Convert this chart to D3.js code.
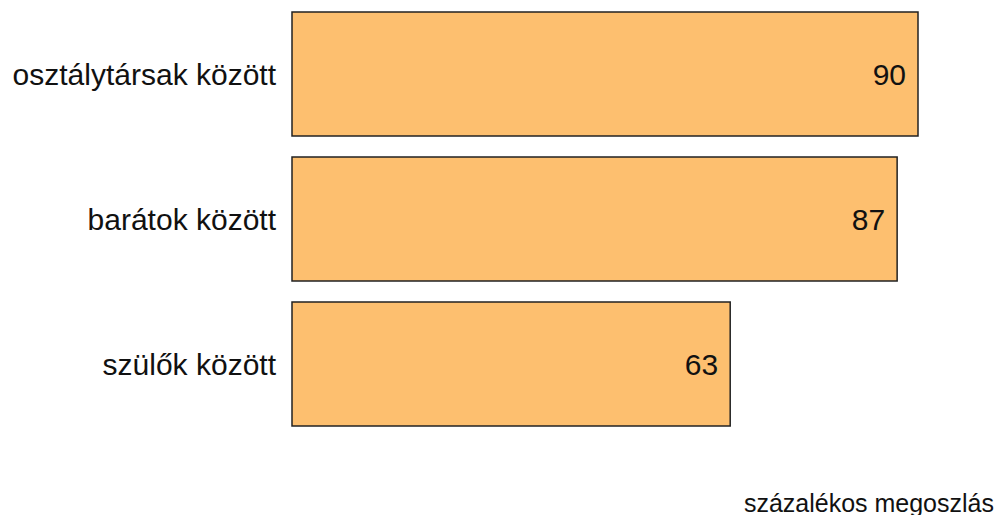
<!DOCTYPE html>
<html>
<head>
    <meta charset="utf-8" />
    <title></title>
    <style>
        body { margin: 0; background: #fff; }
        text { font-family: "Liberation Sans", Arial, sans-serif; fill: #111; }
    </style>
</head>
<body>
    <div id="chart"></div>
    <script src="https://cdn.jsdelivr.net/npm/d3@7"></script>
    <script>
        var categories = ["osztálytársak között", "barátok között", "szülők között"];
        var values = [90, 87, 63];
        var axisTitle = "százalékos megoszlás";

        var width = 997, height = 515;
        var data = categories.map((c, i) => ({ name: c, value: values[i] }));

        var svg = d3.select("#chart")
            .append("svg")
            .attr("width", width)
            .attr("height", height);

        var x = d3.scaleLinear()
            .domain([0, 90])
            .range([292, 918]);

        var y = d3.scaleBand()
            .domain(categories)
            .range([12, 426])
            .paddingInner(21 / 145)
            .paddingOuter(0);

        svg.append("g")
            .selectAll("rect")
            .data(data)
            .join("rect")
            .attr("x", x(0))
            .attr("y", d => y(d.name))
            .attr("width", d => x(d.value) - x(0))
            .attr("height", y.bandwidth())
            .attr("fill", "#fdbf6f")
            .attr("stroke", "#222")
            .attr("stroke-width", 1.5);

        svg.append("g")
            .attr("font-size", 30)
            .attr("text-anchor", "end")
            .selectAll("text")
            .data(data)
            .join("text")
            .attr("x", d => x(d.value) - 12)
            .attr("y", d => y(d.name) + y.bandwidth() / 2)
            .attr("dy", "0.36em")
            .text(d => d.value);

        svg.append("g")
            .attr("font-size", 30)
            .attr("text-anchor", "end")
            .selectAll("text")
            .data(data)
            .join("text")
            .attr("x", x(0) - 16)
            .attr("y", d => y(d.name) + y.bandwidth() / 2)
            .attr("dy", "0.36em")
            .text(d => d.name);

        svg.append("text")
            .attr("font-size", 25)
            .attr("text-anchor", "end")
            .attr("x", 994)
            .attr("y", 512)
            .text(axisTitle);
    </script>
</body>
</html>
